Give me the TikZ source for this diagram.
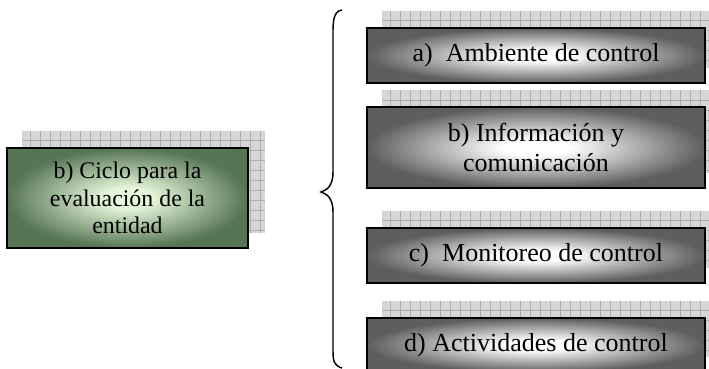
\documentclass[tikz,border=0pt]{standalone}
\usepackage{fontspec}
\setmainfont{Liberation Serif}
\usetikzlibrary{backgrounds}

\definecolor{boxgray}{HTML}{5E5E5E}
\definecolor{boxgreen}{HTML}{557555}
\definecolor{lightgreen}{HTML}{E6F6DA}
\definecolor{gridfill}{HTML}{D6D6D6}
\definecolor{gridline}{HTML}{ADADAD}

\pgfdeclareradialshading{softgray}{\pgfpoint{0bp}{0bp}}{color(0bp)=(white); color(5bp)=(white); color(25bp)=(boxgray); color(50bp)=(boxgray)}
\pgfdeclareradialshading{softgreen}{\pgfpoint{0bp}{0bp}}{color(0bp)=(lightgreen); color(5bp)=(lightgreen); color(25bp)=(boxgreen); color(50bp)=(boxgreen)}

\begin{document}
\begin{tikzpicture}[x=0.75pt,y=-0.75pt,
    every node/.style={rectangle,draw,line width=1.2pt,align=center,inner sep=0pt},
    graybox/.style={shading=softgray,
      minimum width=253.5pt,font=\fontsize{19.5}{22.4}\selectfont},
    greenbox/.style={shading=softgreen,
      minimum width=180.75pt,minimum height=75pt,font=\fontsize{17.9}{20.6}\selectfont}]
    \useasboundingbox (0,0) rectangle (709,368);

    \node[greenbox] (ciclo) at (127.5,198) {b) Ciclo para la\\evaluación de la\\entidad};

    \node[graybox,minimum height=41.25pt] (ambiente) at (536,55.5) {a)~~Ambiente de control};
    \node[graybox,minimum height=60.75pt] (informacion) at (536,147.5) {b) Información y\\comunicación};
    \node[graybox,minimum height=41.25pt] (monitoreo) at (536,255.5) {c)~~Monitoreo de control};
    \node[graybox,minimum height=40.5pt] (actividades) at (536,345) {d) Actividades de control};

  % grid shadows behind the boxes
  \begin{scope}[on background layer]
  \foreach \n in {ciclo,ambiente,informacion,monitoreo,actividades}{
    \fill[gridfill] ([shift={(16,-16)}]\n.south west) rectangle ([shift={(16,-16)}]\n.north east);
    \draw[gridline,line width=0.4pt,step=7.5pt] ([shift={(16,-16)}]\n.south west) grid ([shift={(16,-16)}]\n.north east);
  }
  \end{scope}

  % brace
  \draw[line width=1.1pt] (342,10) .. controls (335,11) and (333,18) .. (333,30) -- (333,172)
    .. controls (333,186) and (327,190) .. (321,192) .. controls (327,194) and (333,198) .. (333,212)
    -- (333,352) .. controls (333,362) and (335,366) .. (342,368);
  \end{tikzpicture}
\end{document}
